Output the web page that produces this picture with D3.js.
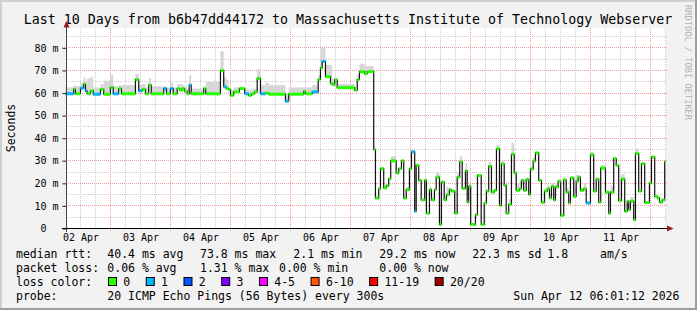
<!DOCTYPE html>
<html>
<head>
<meta charset="utf-8">
<script src="https://cdn.jsdelivr.net/npm/d3@7"></script>
<style>
html, body { margin: 0; padding: 0; background: #f2f2f2; }
svg text { font-family: "DejaVu Sans Mono", monospace; white-space: pre; fill: #000; }
</style>
</head>
<body>
<svg id="chart" width="697" height="310"></svg>
<script>
// ---- data ----
const titleText = "Last 10 Days from b6b47dd44172 to Massachusetts Institute of Technology Webserver";
const yLabel = "Seconds";
const watermark = "RRDTOOL / TOBI OETIKER";
const yTicks = [0, 10, 20, 30, 40, 50, 60, 70, 80];
const yTickLabels = ["0  ", "10 m", "20 m", "30 m", "40 m", "50 m", "60 m", "70 m", "80 m"];
const dayLabels = ["02 Apr", "03 Apr", "04 Apr", "05 Apr", "06 Apr", "07 Apr", "08 Apr", "09 Apr", "10 Apr", "11 Apr"];

// hours since 2026-04-02 00:00 at which each median step starts
const stepHour = [
  6.0, 9.3, 10.0, 12.0, 13.3, 14.0, 14.7, 16.0, 17.1, 20.0,
  21.3, 24.0, 25.1, 27.3, 28.4, 34.0, 35.3, 36.7, 38.0, 39.3,
  40.3, 45.3, 46.4, 48.0, 49.1, 50.7, 51.7, 52.7, 53.6, 54.7,
  55.5, 56.3, 61.3, 62.1, 68.0, 69.3, 70.3, 71.3, 72.0, 73.3,
  75.6, 77.7, 79.3, 80.4, 81.7, 82.7, 84.0, 86.0, 87.3, 94.0,
  95.3, 101.3, 102.0, 104.7, 107.1, 108.0, 108.7, 110.0, 112.0, 112.7,
  113.7, 114.7, 121.7, 122.7, 123.6, 125.7, 126.7, 129.3, 130.0, 131.3,
  132.0, 133.3, 134.3, 135.3, 136.1, 138.3, 139.3, 140.4, 141.3, 142.3,
  143.6, 144.4, 145.7, 146.3, 147.3, 148.3, 149.7, 150.4, 151.6, 152.4,
  153.6, 154.3, 155.6, 156.4, 157.5, 158.4, 159.6, 160.4, 161.7, 162.7,
  163.7, 164.7, 166.0, 166.7, 167.3, 168.1, 170.0, 170.8, 172.3, 173.5,
  174.4, 175.3, 176.4, 177.5, 178.4, 179.6, 180.4, 181.5, 182.3, 183.3,
  184.4, 185.5, 186.3, 187.6, 188.4, 189.3, 190.3, 191.3, 192.0, 193.1,
  194.0, 195.3, 196.4, 197.6, 198.7, 199.6, 200.4, 201.3, 202.0, 203.1,
  204.1, 205.3, 206.3, 207.3, 208.0, 209.3, 210.3, 211.1, 212.0, 213.3,
  214.3, 216.0, 217.3, 218.3, 219.3, 220.1, 222.0, 223.3, 224.0, 225.3,
  226.3, 227.3, 228.4, 229.7, 230.7, 231.3, 232.0, 233.3, 234.0, 235.3,
  236.4, 237.7, 239.6, 240.4, 241.7, 242.7, 243.6, 244.7, 245.7
];

// median rtt in ms for each step
const medianMs = [
  59.7, 61.8, 59.7, 62.2, 64, 60.9, 59.7, 61, 59.5, 61.6,
  59.5, 62.5, 59.7, 62, 59.7, 66, 61, 61.6, 59.7, 63.5,
  59.7, 62, 59.7, 62, 59.7, 62, 61.3, 62, 60.8, 59.7,
  63.5, 59.7, 62, 59.7, 70, 62.8, 62, 61.5, 59, 60.5,
  62, 59.7, 59, 59.7, 60.5, 66.5, 59.7, 60, 59.5, 56.4,
  59.5, 60.8, 59.7, 60.5, 66, 71.2, 74, 67.3, 64.3, 63.7,
  65.8, 62.4, 61.3, 66, 69.5, 68.6, 69.5, 35, 13.5, 17.6,
  26.5, 18, 19, 22, 30, 24.6, 26.5, 30, 13.5, 17.2,
  26.5, 34, 7.7, 28, 21.3, 12.7, 21.3, 6.8, 17.2, 12.7,
  17.2, 22.8, 1.8, 20.6, 12.7, 15, 17.2, 16.6, 6.8, 22.8,
  29.5, 17.8, 25.5, 11.7, 18.7, 1.8, 6.1, 23.5, 1.8, 11.3,
  16.6, 27.6, 16.1, 16.9, 35.3, 10.2, 28.6, 19.1, 6.8, 10.7,
  32.9, 24.6, 16.9, 17.6, 21.3, 16.9, 21.8, 15.1, 26.4, 29.9,
  33.5, 21.3, 11.6, 16.6, 17.6, 13.6, 18.7, 12.7, 18.4, 21,
  5.8, 21.6, 16.1, 11.3, 22.4, 14.2, 21, 22.8, 16.9, 17.6,
  11.3, 32.7, 16.6, 21.9, 11.7, 26.8, 16.1, 6.8, 16.1, 31,
  28, 12.4, 21.9, 7.7, 12.1, 8.3, 12.1, 3.9, 33.2, 16.6,
  28.7, 11.5, 20.1, 31.7, 14.2, 13.6, 11.7, 12.7, 29.5
];

// top of the grey ping smoke for each step, ms
const smokeTopMs = [
  62.5, 63.5, 63, 64.5, 67, 65, 66.5, 67, 62.5, 64,
  65.5, 68, 63, 63.5, 63.5, 68.5, 63.5, 64, 62.5, 66.5,
  63, 63, 62.5, 64.5, 62.5, 64, 64, 63.5, 63, 62,
  68, 62, 63, 65, 78.5, 67, 66, 62.5, 61.5, 62.5,
  62.5, 62, 61.5, 62, 62, 70.5, 63.5, 64.5, 63.5, 60,
  62.5, 62.5, 62.5, 63.5, 68, 80, 80, 72.5, 72.5, 66.5,
  67, 64, 62.5, 68, 73, 72, 72, 36.5, 14, 18,
  27, 18, 19, 22, 32, 25, 27, 30.5, 14, 18.5,
  27, 34.5, 9, 28.5, 22, 13, 22.5, 7, 18.5, 14,
  17.5, 25, 2, 21, 13, 18.5, 17.5, 17, 7, 24.5,
  32, 18, 29, 12, 19, 2, 6.5, 24, 2, 11.5,
  17, 29.5, 16.5, 17, 37, 11, 30.5, 20, 7, 13,
  38, 25, 20, 21, 22, 17.5, 22, 15.5, 27, 31.5,
  34, 22, 12, 17, 19.5, 14, 20, 13, 20, 21.5,
  6, 22, 18, 11.5, 23, 19, 24, 23.5, 18, 20,
  12, 34, 17, 22, 12, 28, 16.5, 7, 19, 31.5,
  28.5, 13, 24, 8, 12.5, 8.5, 14, 4, 35.5, 17,
  29, 12, 20.5, 32, 14.5, 14, 12, 13, 31
];

// steps where 1 of 20 pings was lost (drawn in the "1" colour)
const oneLossHours = [6.0, 12.0, 14.0, 17.1, 25.1, 35.3, 45.3, 48.0, 55.5, 69.3,
  77.7, 84.0, 94.0, 104.7, 108.7, 144.4, 145.7, 214.3];

const lossLegend = ["0", "1", "2", "3", "4-5", "6-10", "11-19", "20/20"];
const lossColors = ["#26ff00", "#00b8ff", "#0059ff", "#7e00ff", "#ff00ff", "#ff5500", "#ff0000", "#a10000"];
const rttStats = ["40.4 ms avg", "73.8 ms max", "2.1 ms min", "29.2 ms now", "22.3 ms sd", "1.8", "am/s"];
const lossStats = ["0.06 % avg", "1.31 % max", "0.00 % min", "0.00 % now"];
const probeText = "20 ICMP Echo Pings (56 Bytes) every 300s";
const stampText = "Sun Apr 12 06:01:12 2026";

// ---- layout ----
const svg = d3.select("#chart");
const W = 697, H = 310;
const plotLeft = 66, plotRight = 666, plotTop = 28, plotBottom = 228;

const day0 = new Date(2026, 3, 2, 0, 0, 0);
const hourToDate = h => new Date(day0.getTime() + h * 3600e3);
const tStart = hourToDate(6.02), tEnd = hourToDate(246.02);

const x = d3.scaleTime().domain([tStart, tEnd]).range([65.5, 665.5]);
const y = d3.scaleLinear().domain([0, 88.6]).range([228.5, 28.5]);
const crisp = v => Math.round(v - 0.5) + 0.5;

// background + 3d border
svg.append("rect").attr("width", W).attr("height", H).attr("fill", "#f2f2f2");
svg.append("path").attr("d", `M1,${H} V1 H${W}`).attr("stroke", "#cfcfcf").attr("stroke-width", 2).attr("fill", "none");
svg.append("path").attr("d", `M0,${H - 1} H${W - 1} V0`).attr("stroke", "#9e9e9e").attr("stroke-width", 2).attr("fill", "none");

svg.append("rect").attr("x", plotLeft).attr("y", plotTop)
  .attr("width", plotRight - plotLeft).attr("height", plotBottom - plotTop).attr("fill", "#fff");

// title
svg.append("text").attr("x", 348).attr("y", 24).attr("text-anchor", "middle")
  .attr("font-size", "13.3px").text(titleText);

// watermark
svg.append("text").attr("transform", "translate(685,5) rotate(90)")
  .attr("font-size", "8.7px").style("fill", "#b4b4b4").text(watermark);

// y label
svg.append("text").attr("transform", "translate(15,128) rotate(-90)")
  .attr("text-anchor", "middle").attr("font-size", "11.5px").text(yLabel);

// ---- grid ----
const grid = svg.append("g");
const minorY = d3.range(5, 89, 5).filter(v => v % 10 !== 0);
grid.selectAll(".hminor").data(minorY).join("line")
  .attr("x1", plotLeft).attr("x2", 668)
  .attr("y1", d => crisp(y(d))).attr("y2", d => crisp(y(d)))
  .attr("stroke", "#cdcdcd").attr("stroke-dasharray", "1,1");

const sixHours = d3.timeHour.every(6).range(tStart, tEnd).filter(d => d.getHours() !== 0);
grid.selectAll(".vminor").data(sixHours).join("line")
  .attr("x1", d => crisp(x(d))).attr("x2", d => crisp(x(d)))
  .attr("y1", plotTop).attr("y2", plotBottom)
  .attr("stroke", "#cdcdcd").attr("stroke-dasharray", "1,1");

grid.selectAll(".hmajor").data(yTicks.filter(v => v > 0)).join("line")
  .attr("x1", 62).attr("x2", 668)
  .attr("y1", d => crisp(y(d))).attr("y2", d => crisp(y(d)))
  .attr("stroke", "#f29a9a").attr("stroke-dasharray", "1,1");

const midnights = d3.timeDay.range(tStart, tEnd);
grid.selectAll(".vmajor").data(midnights).join("line")
  .attr("x1", d => crisp(x(d))).attr("x2", d => crisp(x(d)))
  .attr("y1", plotTop).attr("y2", 232)
  .attr("stroke", "#f29a9a").attr("stroke-dasharray", "1,1");

// ---- smoke ----
const steps = stepHour.map((h, i) => ({
  t0: hourToDate(h),
  t1: i + 1 < stepHour.length ? hourToDate(stepHour[i + 1]) : tEnd,
  med: medianMs[i],
  smoke: smokeTopMs[i],
  loss: oneLossHours.includes(h) ? 1 : 0
}));

svg.append("g").selectAll("rect").data(steps).join("rect")
  .attr("x", d => x(d.t0)).attr("width", d => x(d.t1) - x(d.t0))
  .attr("y", d => y(d.smoke)).attr("height", d => Math.max(0, y(d.med) - y(d.smoke) + 1.5))
  .attr("fill", "#d6d6d6");

// ---- median: black step line + loss coloured segments ----
const linePts = steps.map(d => [d.t0, d.med]).concat([[tEnd, medianMs[medianMs.length - 1]]]);
svg.append("path")
  .attr("d", d3.line().x(d => x(d[0])).y(d => y(d[1])).curve(d3.curveStepAfter)(linePts))
  .attr("fill", "none").attr("stroke", "#111").attr("stroke-width", 1.2);

svg.append("g").selectAll("line").data(steps).join("line")
  .attr("x1", d => x(d.t0)).attr("x2", d => x(d.t1))
  .attr("y1", d => y(d.med)).attr("y2", d => y(d.med))
  .attr("stroke", d => lossColors[d.loss]).attr("stroke-width", 3);

// ---- axes ----
const yAxis = d3.axisLeft(y).tickValues(yTicks).tickFormat((d, i) => yTickLabels[i])
  .tickSize(4).tickPadding(4).tickSizeOuter(0);
const gy = svg.append("g").attr("transform", "translate(66.5,0)").call(yAxis);
gy.select(".domain").remove();
gy.selectAll(".tick line").attr("stroke", "#333");
gy.selectAll("text").attr("font-size", "10px").attr("font-family", "DejaVu Sans Mono").style("fill", "#000");

svg.append("line").attr("x1", 66.5).attr("x2", 66.5).attr("y1", 24).attr("y2", 232)
  .attr("stroke", "#444");
svg.append("line").attr("x1", 62).attr("x2", 669).attr("y1", 228.5).attr("y2", 228.5)
  .attr("stroke", "#000");
svg.append("path").attr("d", "M66.5,21 L63.5,27.5 L69.5,27.5 Z").attr("fill", "#9b1c1c");
svg.append("path").attr("d", "M673.5,228.5 L667,225.5 L667,231.5 Z").attr("fill", "#9b1c1c");

svg.append("g").selectAll("text").data(dayLabels).join("text")
  .attr("x", (d, i) => x(hourToDate(12 + 24 * i)) + 0.5)
  .attr("y", 241).attr("text-anchor", "middle").attr("font-size", "10px")
  .text(d => d);

// ---- legend ----
const legend = svg.append("g").attr("font-size", "11.5px");
const rowY = [258.4, 272.2, 286.1, 300];
legend.append("text").attr("x", 16).attr("y", rowY[0]).text("median rtt:");
legend.append("text").attr("x", 16).attr("y", rowY[1]).text("packet loss:");
legend.append("text").attr("x", 16).attr("y", rowY[2]).text("loss color:");
legend.append("text").attr("x", 16).attr("y", rowY[3]).text("probe:");

const rttX = [107.3, 200, 293.3, 379.3, 472.3, 547.3, 600];
legend.selectAll(".rtt").data(rttStats).join("text")
  .attr("x", (d, i) => rttX[i]).attr("y", rowY[0]).text(d => d);

const lossX = [107.3, 200, 279, 379.3];
legend.selectAll(".loss").data(lossStats).join("text")
  .attr("x", (d, i) => lossX[i]).attr("y", rowY[1]).text(d => d);

const charW = 6.94;
let lx = 108;
lossLegend.forEach((lab, i) => {
  legend.append("rect").attr("x", lx + 0.5).attr("y", 277.5).attr("width", 8).attr("height", 8)
    .attr("fill", lossColors[i]).attr("stroke", "#000").attr("stroke-width", 1);
  legend.append("text").attr("x", lx + 15.3).attr("y", rowY[2]).text(lab);
  lx += 15.3 + lab.length * charW + 15.5;
});

legend.append("text").attr("x", 107.3).attr("y", rowY[3]).text(probeText);
legend.append("text").attr("x", 513.3).attr("y", rowY[3]).text(stampText);
</script>
</body>
</html>
